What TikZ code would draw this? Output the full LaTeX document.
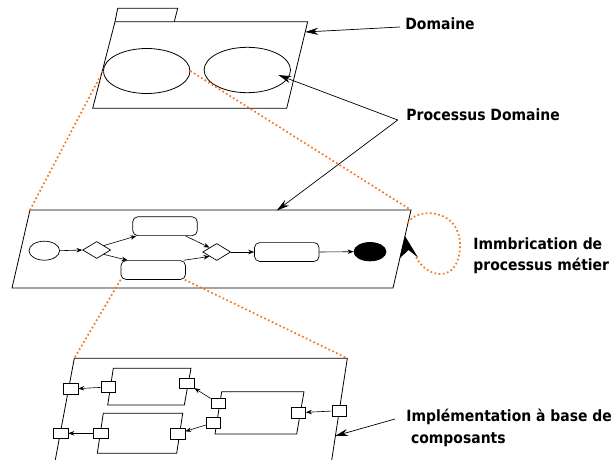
\documentclass[tikz,border=0pt]{standalone}
\usepackage{fontspec}
\newfontfamily\lblfont{DejaVu Sans Condensed}
\usetikzlibrary{arrows.meta,shapes.geometric,calc}
\definecolor{dotorange}{RGB}{245,118,30}
\begin{document}
\begin{tikzpicture}[x=1pt,y=-1pt,
  line width=0.8pt,
  lbl/.style={font=\lblfont\bfseries\fontsize{15.5}{20}\selectfont, anchor=base west, inner sep=0pt},
  bigarrow/.style={-{Stealth[length=13pt,width=7pt]}, line width=0.7pt},
  flow/.style={-{Stealth[length=6pt,width=4.5pt]}, line width=0.6pt},
  dots/.style={dotorange, line width=1.7pt, dash pattern=on 1.7pt off 2.5pt},
  ell/.style={ellipse, draw, inner sep=0pt},
  rr/.style={draw, rounded corners=5pt, inner sep=0pt, minimum width=64.5pt, minimum height=18.8pt},
  gate/.style={diamond, draw, inner sep=0pt, minimum width=28pt, minimum height=17pt},
  port/.style={draw, fill=white, inner sep=0pt, minimum width=14.5pt, minimum height=10.5pt, line width=0.7pt}
]
\useasboundingbox (0,0) rectangle (616,460);

% ---------- top: domain package ----------
\draw (115,21.7) -- (117.7,8.3) -- (177.7,8.3) -- (174.3,21.7);
\draw (115,21.7) coordinate (pkTL) -- (307.7,21.7) coordinate (pkTR) -- (286.7,108.3) coordinate (pkBR) -- (92.7,108.3) coordinate (pkBL) -- cycle;
\node[ell, minimum width=86.6pt, minimum height=45pt] (e1) at (146.7,71) {};
\node[ell, minimum width=86.4pt, minimum height=45.4pt] (e2) at (247.3,70) {};
\coordinate (domTip) at (305.2,32);
\coordinate (e2Tip) at (278.3,75);

% ---------- middle: process lane ----------
\draw (30,210) coordinate (mTL) -- (411,210) coordinate (mTR) -- (393,288) coordinate (mBR) -- (12,288) coordinate (mBL) -- cycle;
\coordinate (laneTip) at (276.7,210.6);
\node[ell, minimum width=30.6pt, minimum height=19pt, line width=0.7pt] (start) at (44.3,250.7) {};
\node[gate, line width=0.7pt] (d1) at (96.7,250) {};
\node[rr, line width=0.7pt] (rtop) at (165,226.2) {};
\node[rr, line width=0.7pt] (rbot) at (153.2,270) {};
\node[gate, line width=0.7pt] (d2) at (216.7,252) {};
\node[rr, line width=0.7pt] (rright) at (286.8,252) {};
\node[ellipse, draw, fill=black, inner sep=0pt, minimum width=32pt, minimum height=18.4pt] (endn) at (370,251.7) {};

\draw[flow] (start.east) -- (d1.west);
\draw[flow] (d1.north east) -- ($(rtop.south west)+(4,0)$);
\draw[flow] (d1.south east) -- ($(rbot.north west)+(7,0)$);
\draw[flow] ($(rtop.south east)+(-12,0)$) -- (d2.north west);
\draw[flow] ($(rbot.north east)+(-2,0)$) -- (d2.south west);
\draw[flow] (d2.east) -- (rright.west);
\draw[flow] (rright.east) -- (endn.west);

% ---------- bottom: component lane ----------
\begin{scope}
\clip (0,0) rectangle (616,460);
\draw (53.4,470) -- (74.3,358.3) coordinate (bTL) -- (347.3,358.3) coordinate (bTR) -- (330.2,470);
\end{scope}
\draw (113.3,368.3) -- (191,368.3) -- (184.3,405) -- (107.7,405) -- cycle;
\draw (103.3,413.3) -- (182.7,413.3) -- (176.7,453.3) -- (97.3,453.3) -- cycle;
\draw (221.7,391.7) -- (304,391.7) -- (296.7,434) -- (215,434) -- cycle;
\node[port] (pL1) at (70.7,389) {};
\node[port] (pL2) at (60.7,433.3) {};
\node[port] (pAl) at (108.3,387) {};
\node[port] (pAr) at (186.7,383.3) {};
\node[port] (pBl) at (100.7,433.3) {};
\node[port] (pBr) at (177.7,433.7) {};
\node[port] (pCu) at (218.3,403.3) {};
\node[port] (pCd) at (213.3,422.7) {};
\node[port] (pCr) at (298.3,412.7) {};
\node[port] (pR) at (339.3,410.7) {};
\draw[flow] (pAl) -- (pL1);
\draw[flow] (pCu) -- (pAr);
\draw[flow] (pCd) -- (pBr);
\draw[flow] (pBl) -- (pL2);
\draw[flow] (pR) -- (pCr);
\coordinate (implTip) at (335,436);

% ---------- orange dotted links ----------
\draw[dots] (e1.west) -- (mTL);
\draw[dots] (e1.east) -- (mTR);
\draw[dots] (rbot.south west) -- (bTL);
\draw[dots] ($(rbot.south east)+(-1,0)$) -- (bTR);
\coordinate (loopStart) at (408,223);
\coordinate (loopEnd) at (415,255);
\draw[dots] (loopStart) .. controls (416,207) and (460,208) .. (460,245) .. controls (460,284) and (426,280) .. (loopEnd);
\fill[black] (405,236) -- (418,257.5) -- (408.5,250) -- (399.5,258.5) -- cycle;

% ---------- labels ----------
\node[lbl] (ldom) at (405,30) {Domaine};
\node[lbl] (lproc) at (406,120) {Processus Domaine};
\node[lbl] (limm1) at (473,249.3) {Immbrication de};
\node[lbl] (limm2) at (473,270) {processus métier};
\node[lbl] (limp1) at (406,421.5) {Implémentation à base de};
\node[lbl] (limp2) at (410.7,443) {composants};

\coordinate (domStart) at (400,27);
\coordinate (procStart) at (397.7,120);
\coordinate (implStart) at (395,419);
\draw[bigarrow] (domStart) -- (domTip);
\draw[bigarrow] (procStart) -- (e2Tip);
\draw[bigarrow] (procStart) -- (laneTip);
\draw[bigarrow] (implStart) -- (implTip);
\end{tikzpicture}
\end{document}
